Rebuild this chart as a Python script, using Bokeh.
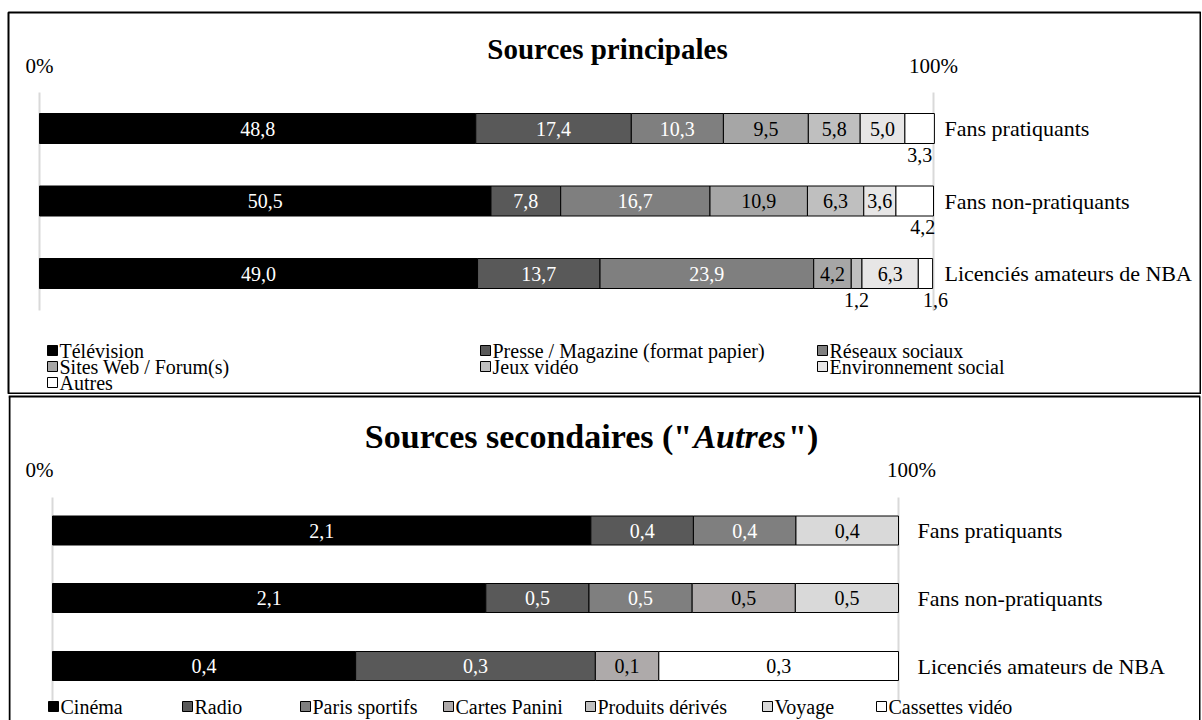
from bokeh.plotting import figure
from bokeh.models import Range1d, ColumnDataSource
from bokeh.layouts import column
from bokeh.core.properties import value
from bokeh.embed import file_html
from bokeh.resources import INLINE

# ---------------- data ----------------
groups = ["Fans pratiquants", "Fans non-pratiquants", "Licenciés amateurs de NBA"]

main_series = ["Télévision", "Presse / Magazine (format papier)", "Réseaux sociaux",
               "Sites Web / Forum(s)", "Jeux vidéo", "Environnement social", "Autres"]
television = [48.8, 50.5, 49.0]
presse = [17.4, 7.8, 13.7]
reseaux = [10.3, 16.7, 23.9]
sites_web = [9.5, 10.9, 4.2]
jeux_video = [5.8, 6.3, 1.2]
environnement = [5.0, 3.6, 6.3]
autres = [3.3, 4.2, 1.6]

sec_series = ["Cinéma", "Radio", "Paris sportifs", "Cartes Panini",
              "Produits dérivés", "Voyage", "Cassettes vidéo"]
cinema = [2.1, 2.1, 0.43]
radio = [0.4, 0.5, 0.34]
paris_sportifs = [0.4, 0.5, 0.0]
cartes_panini = [0.0, 0.5, 0.09]
produits_derives = [0.0, 0.0, 0.0]
voyage = [0.4, 0.5, 0.0]
cassettes = [0.0, 0.0, 0.34]

title_main = "Sources principales"
title_sec = ['Sources secondaires ("', 'Autres', '")']
tick_labels = ["0%", "100%"]

# ---------------- styles ----------------
FONT = value("Liberation Serif")
main_colors = ["#000000", "#595959", "#7f7f7f", "#a6a6a6", "#bfbfbf", "#e7e6e6", "#ffffff"]
sec_colors = ["#000000", "#595959", "#7f7f7f", "#aeaaaa", "#bfbfbf", "#d9d9d9", "#ffffff"]
text_cols = ["white", "white", "white", "black", "black", "black", "black"]

FL, FR = 8, 1200   # frame left / right (px) shared by both panels


def fmt(v):
    return f"{v:.1f}".replace(".", ",")


# ================= panel 1 =================
Z1, K1 = 39.0, 8.94          # pixel of 0 %, pixels per %
ROW1 = [128.0, 200.5, 273.0]  # row centres (px)
H1 = 30


def x1(px):
    return (px - Z1) / K1


p1 = figure(width=1201, height=394,
            x_range=Range1d(x1(FL), x1(FR)), y_range=Range1d(393, 12),
            x_axis_type=None, y_axis_type=None,
            output_backend="svg", toolbar_location=None,
            min_border_left=FL, min_border_right=1201 - FR, min_border_top=12, min_border_bottom=1)
p1.outline_line_color = "black"
p1.outline_line_width = 2
p1.background_fill_color = "white"
p1.border_fill_color = "white"

p1.segment(x0=[0, 100], x1=[0, 100], y0=[92, 92], y1=[310, 310],
           line_color="#d9d9d9", line_width=2)

main_values = [television, presse, reseaux, sites_web, jeux_video, environnement, autres]
below_dx = {(6, 1): 8, (6, 2): 10}
lefts = [0.0, 0.0, 0.0]
for s, vals in enumerate(main_values):
    rights = [l + v for l, v in zip(lefts, vals)]
    src = ColumnDataSource(dict(y=ROW1, left=lefts, right=rights))
    p1.hbar(y="y", left="left", right="right", height=H1, source=src,
            fill_color=main_colors[s], line_color="black", line_width=1)
    tx, ty, tt, tc = [], [], [], []
    for r in range(3):
        v = vals[r]
        mid = (lefts[r] + rights[r]) / 2
        if s == len(main_values) - 1 or v < 2:
            tx.append(mid + below_dx.get((s, r), 0) / K1)
            ty.append(ROW1[r] + H1 / 2 + 11)
            tc.append("black")
        else:
            tx.append(mid)
            ty.append(ROW1[r])
            tc.append(text_cols[s])
        tt.append(fmt(v))
    p1.text(x=tx, y=ty, text=tt, text_color=tc, text_font=FONT, text_font_size="20px",
            text_align="center", text_baseline="middle")
    lefts = rights

p1.text(x=[x1(944)] * 3, y=ROW1, text=groups, text_font=FONT,
        text_font_size="22px", text_align="left", text_baseline="middle", text_color="black")
p1.text(x=[0, 100], y=[65, 65], text=tick_labels, text_font=FONT, text_font_size="21px",
        text_align="center", text_baseline="middle", text_color="black")
p1.text(x=[x1(607)], y=[48], text=[title_main], text_font=FONT, text_font_size="29px",
        text_font_style="bold", text_align="center", text_baseline="middle", text_color="black")

leg_cols = [47, 480, 817]
leg_rows = [350, 366, 382]
lx, ly, tx, ty = [], [], [], []
for i, name in enumerate(main_series):
    cx = leg_cols[i % 3]
    cy = leg_rows[i // 3]
    lx.append(x1(cx + 5))
    ly.append(cy)
    tx.append(x1(cx + 12))
    ty.append(cy)
p1.scatter(x=lx, y=ly, marker="square", size=10, fill_color=main_colors,
           line_color="black", line_width=1)
p1.text(x=tx, y=ty, text=main_series, text_font=FONT, text_font_size="20px",
        text_align="left", text_baseline="middle", text_color="black")

# ================= panel 2 =================
Z2, K2 = 52.0, 8.46
ROW2 = [530.0, 597.5, 665.5]
H2 = 29


def x2(px):
    return (px - Z2) / K2


p2 = figure(width=1201, height=326,
            x_range=Range1d(x2(FL), x2(FR)), y_range=Range1d(720, 394),
            x_axis_type=None, y_axis_type=None,
            output_backend="svg", toolbar_location=None,
            min_border_left=FL, min_border_right=1201 - FR, min_border_top=0, min_border_bottom=0)
p2.outline_line_color = None
p2.background_fill_color = "white"
p2.border_fill_color = "white"

# panel border (top, left, right)
p2.segment(x0=[x2(FL), x2(FL + 1), x2(FR - 0.5)], x1=[x2(FR), x2(FL + 1), x2(FR - 0.5)],
           y0=[396, 396, 396], y1=[396, 725, 725], line_color="black", line_width=2)

p2.segment(x0=[0, 100], x1=[0, 100], y0=[497, 497], y1=[700, 700],
           line_color="#d9d9d9", line_width=2)

sec_values = [cinema, radio, paris_sportifs, cartes_panini, produits_derives, voyage, cassettes]
totals = [sum(col) for col in zip(*sec_values)]
lefts = [0.0, 0.0, 0.0]
for s, vals in enumerate(sec_values):
    pct = [v / t * 100 for v, t in zip(vals, totals)]
    rights = [l + v for l, v in zip(lefts, pct)]
    keep = [r for r in range(3) if vals[r] > 0]
    if keep:
        src = ColumnDataSource(dict(y=[ROW2[r] for r in keep],
                                    left=[lefts[r] for r in keep],
                                    right=[rights[r] for r in keep]))
        p2.hbar(y="y", left="left", right="right", height=H2, source=src,
                fill_color=sec_colors[s], line_color="black", line_width=1)
        p2.text(x=[(lefts[r] + rights[r]) / 2 for r in keep], y=[ROW2[r] for r in keep],
                text=[fmt(vals[r]) for r in keep], text_color=text_cols[s], text_font=FONT,
                text_font_size="20px", text_align="center", text_baseline="middle")
    lefts = rights

p2.text(x=[x2(917)] * 3, y=ROW2, text=groups, text_font=FONT,
        text_font_size="22px", text_align="left", text_baseline="middle", text_color="black")
p2.text(x=[x2(39), x2(911)], y=[469, 469], text=tick_labels, text_font=FONT, text_font_size="21px",
        text_align="center", text_baseline="middle", text_color="black")

# title in three parts (bold / bold italic / bold)
T2_SIZE = 34
w1 = 9.665 * T2_SIZE
w2 = 2.723 * T2_SIZE
w3 = 0.888 * T2_SIZE
t_left = 591 - (w1 + w2 + w3 + 2) / 2
p2.text(x=[x2(t_left)], y=[436], text=[title_sec[0]], text_font=FONT, text_font_size=f"{T2_SIZE}px",
        text_font_style="bold", text_align="left", text_baseline="middle", text_color="black")
p2.text(x=[x2(t_left + w1)], y=[436], text=[title_sec[1]], text_font=FONT, text_font_size=f"{T2_SIZE}px",
        text_font_style="bold italic", text_align="left", text_baseline="middle", text_color="black")
p2.text(x=[x2(t_left + w1 + w2 + 2)], y=[436], text=[title_sec[2]], text_font=FONT,
        text_font_size=f"{T2_SIZE}px", text_font_style="bold", text_align="left",
        text_baseline="middle", text_color="black")

leg2_cols = [48, 182, 300, 443, 585, 762, 876]
p2.scatter(x=[x2(c + 5) for c in leg2_cols], y=[706] * 7, marker="square", size=10,
           fill_color=sec_colors, line_color="black", line_width=1)
p2.text(x=[x2(c + 12) for c in leg2_cols], y=[706] * 7, text=sec_series, text_font=FONT,
        text_font_size="20px", text_align="left", text_baseline="middle", text_color="black")

layout = column(p1, p2, spacing=0)
open("out.html", "w").write(file_html(layout, INLINE))
